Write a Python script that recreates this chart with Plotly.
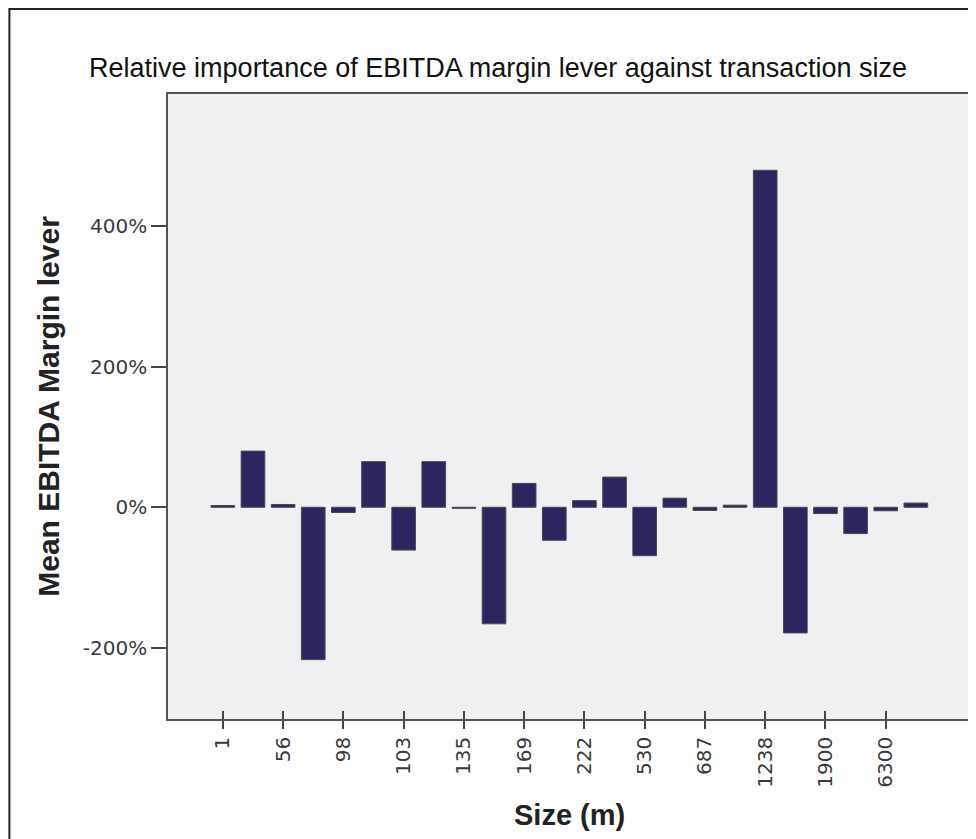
import plotly.graph_objects as go

# Mean EBITDA margin lever (%) for each transaction-size category, in order
margin_lever = [2.5, 80, 4, -217, -7.5, 65, -61, 65, -1.5, -166, 34, -47,
                9.5, 43, -69, 13, -4.5, 3, 480, -179, -9, -37.5, -5, 6]
# Only every other category is labelled on the original axis
size_tick_labels = ["1", "56", "98", "103", "135", "169", "222", "530",
                    "687", "1238", "1900", "6300"]
y_tick_values = [-200, 0, 200, 400]
y_tick_labels = ["-200%", "0%", "200%", "400%"]

x_pos = list(range(len(margin_lever)))
tick_pos = x_pos[::2][:len(size_tick_labels)]

OFF = 8  # browser body margin
PAGE_W, PAGE_H = 976, 839
W, H = PAGE_W - OFF, PAGE_H - OFF
# plot area in page pixels: x 168..973, y 94..719
L = 168 - OFF
T = 94 - OFF
R = W - (973 - OFF)
B = H - (719 - OFF)
pw, ph = W - L - R, H - T - B

def px_x(page_px):
    return (page_px - OFF - L) / pw

def px_y(page_py):
    return (H - B - (page_py - OFF)) / ph

fig = go.Figure()
fig.add_trace(go.Bar(
    x=x_pos, y=margin_lever,
    marker=dict(color="#2b2560", line=dict(color="#4a4a4a", width=1)),
    hoverinfo="y",
))
# invisible trace to attach inside ticks (crossing tick marks)
fig.add_trace(go.Scatter(x=[x_pos[0]], y=[0], xaxis="x2", mode="markers",
                         marker=dict(opacity=0), hoverinfo="skip", showlegend=False))

xr = [-1.82, 24.83]
fig.update_layout(
    width=W, height=H,
    margin=dict(l=L, r=R, t=T, b=B, pad=0),
    paper_bgcolor="white",
    plot_bgcolor="#eff0f2",
    showlegend=False,
    bargap=0.215,
    xaxis=dict(
        range=xr, tickmode="array", tickvals=tick_pos, ticktext=size_tick_labels,
        ticks="outside", ticklen=8, tickwidth=1.5, tickcolor="#444",
        tickangle=-90, showgrid=False, zeroline=False,
        showline=True, linecolor="#555", linewidth=1.5, mirror=True,
        tickfont=dict(family="DejaVu Sans", size=20, color="#3a3a3a"),
    ),
    xaxis2=dict(
        range=xr, overlaying="x", anchor="y", side="bottom",
        tickmode="array", tickvals=tick_pos, ticks="inside", ticklen=8,
        tickwidth=1.5, tickcolor="#444", showticklabels=False,
        showgrid=False, zeroline=False, showline=False,
    ),
    yaxis=dict(
        range=[-301.6, 588.7], tickmode="array", tickvals=y_tick_values,
        ticktext=y_tick_labels, ticks="outside", ticklen=15, tickwidth=1.5,
        tickcolor="#444", showgrid=False, zeroline=False,
        showline=True, linecolor="#555", linewidth=1.5, mirror=True,
        tickfont=dict(family="DejaVu Sans", size=20, color="#3a3a3a"),
    ),
    title=dict(
        text="Relative importance of EBITDA margin lever against transaction size",
        xref="container", yref="container",
        x=(498 - OFF) / W, y=1 - (68 - OFF) / H, xanchor="center", yanchor="middle",
        font=dict(family="Liberation Sans, Arial", size=27, color="#111"),
    ),
    annotations=[
        dict(text="<b>Mean EBITDA Margin lever</b>", textangle=-90,
             xref="paper", yref="paper", x=px_x(48), y=0.5,
             xanchor="center", yanchor="middle", showarrow=False,
             font=dict(family="Liberation Sans, Arial", size=30, color="#222")),
        dict(text="<b>Size (m)</b>",
             xref="paper", yref="paper", x=0.5, y=px_y(815),
             xanchor="center", yanchor="middle", showarrow=False,
             font=dict(family="Liberation Sans, Arial", size=29, color="#222")),
    ],
    shapes=[
        dict(type="line", xref="paper", yref="paper",
             x0=px_x(9), x1=px_x(9), y0=px_y(8), y1=px_y(PAGE_H + 5),
             line=dict(color="#222", width=2)),
        dict(type="line", xref="paper", yref="paper",
             x0=px_x(9), x1=px_x(PAGE_W + 5), y0=px_y(9), y1=px_y(9),
             line=dict(color="#222", width=2)),
    ],
)

fig.write_html("out.html")
